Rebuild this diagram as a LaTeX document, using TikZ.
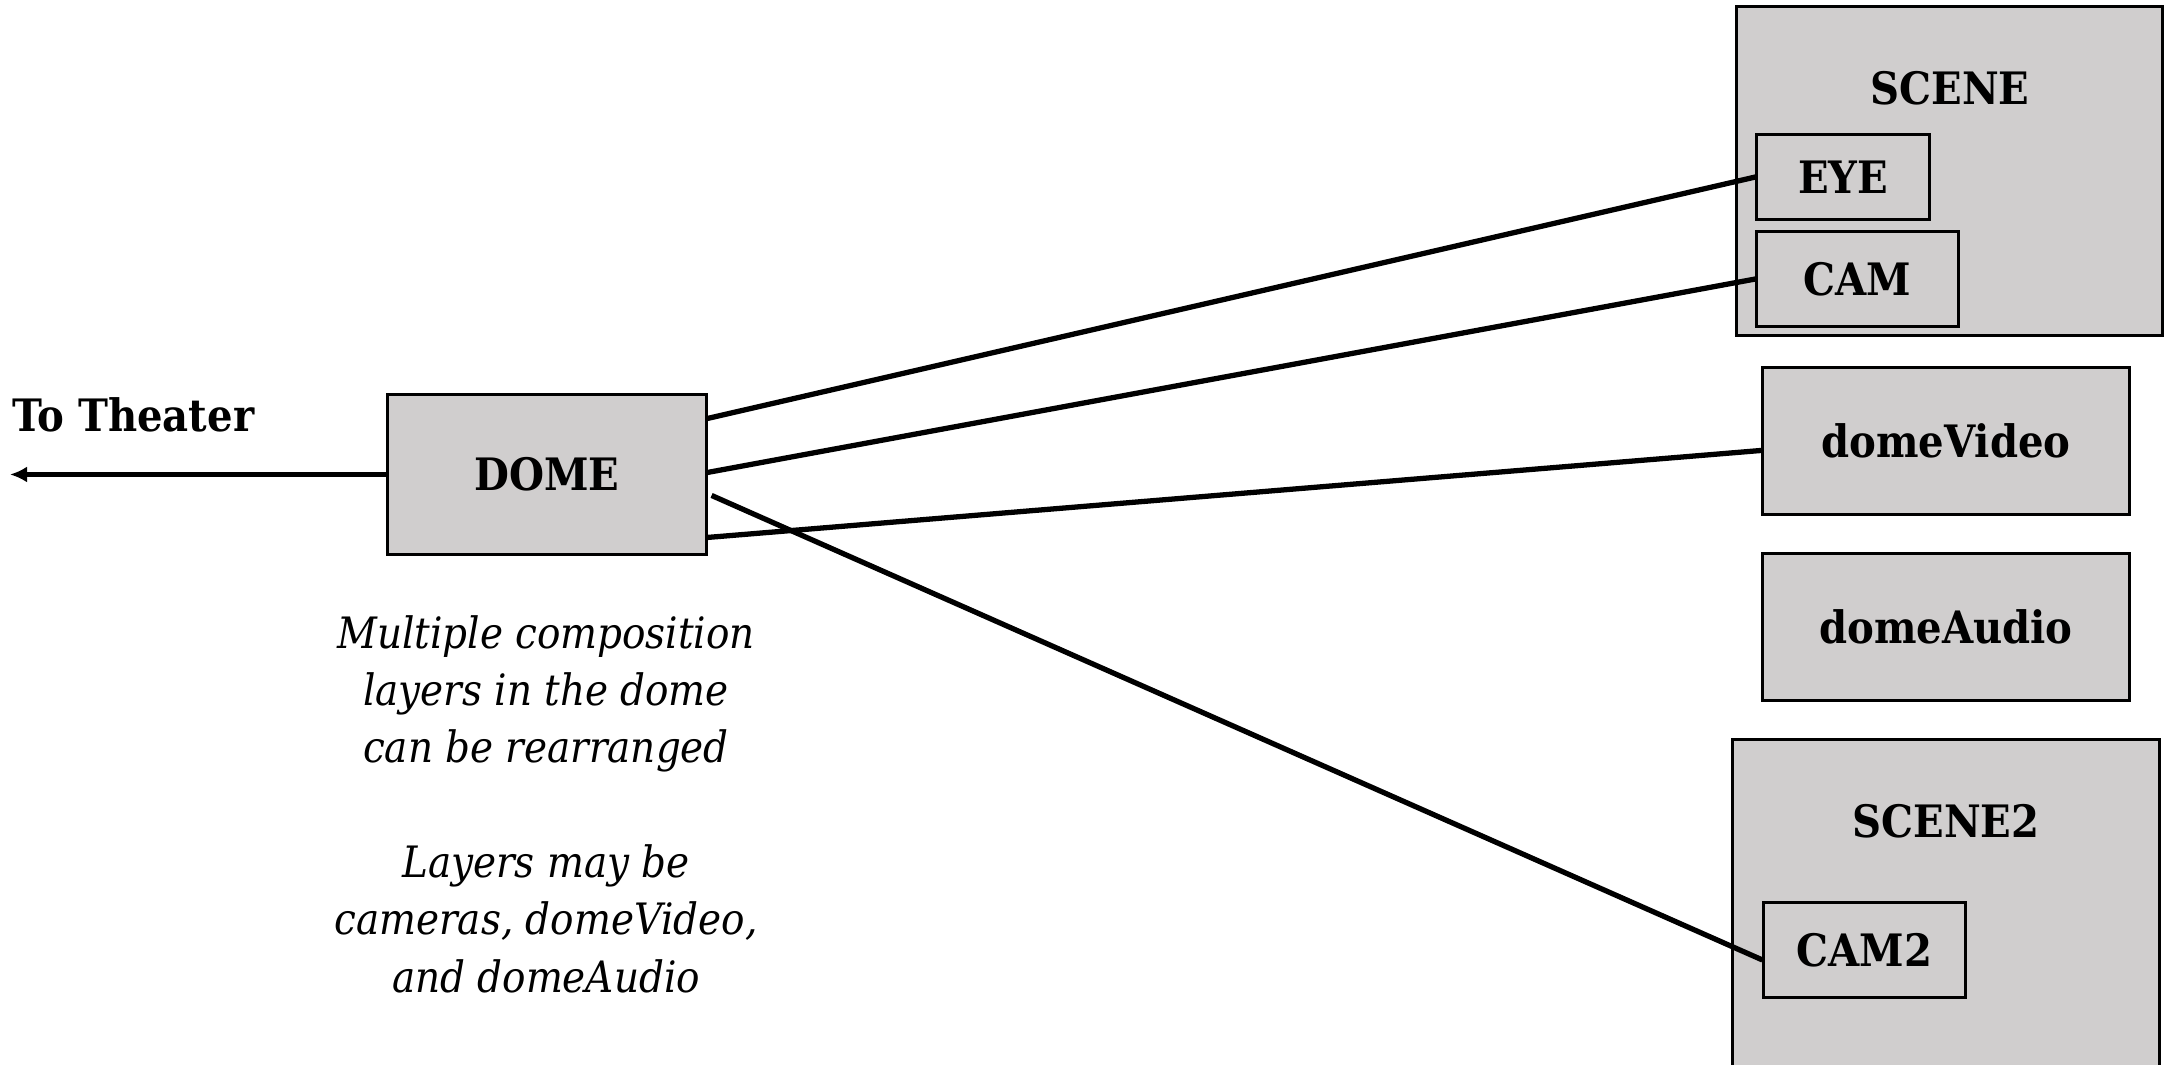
\documentclass[tikz,border=0pt]{standalone}
\usepackage{fontspec}
\setmainfont{DejaVu Serif Condensed}
\usetikzlibrary{arrows.meta,calc}
\definecolor{boxgray}{HTML}{D0CECE}
\tikzset{
  box/.style={draw=black, line width=0.85pt, fill=boxgray, inner sep=0pt,
    font=\fontsize{12.7}{15}\selectfont\bfseries},
  lbl/.style={font=\fontsize{12.7}{15}\selectfont\bfseries, inner sep=0pt},
  note/.style={font=\fontsize{12.3}{16.3}\selectfont\itshape, align=center, inner sep=0pt},
  conn/.style={line width=1.5pt, black},
}
\begin{document}
\begin{tikzpicture}[x=0.01cm,y=-0.01cm]
\useasboundingbox (0,0) rectangle (2177,1065);
% right column
\node[box, minimum width=4.25cm, minimum height=3.28cm] (scene) at (1949.5,171) {};
\node[lbl] (scenelbl) at (1950,88) {SCENE};
\node[box, minimum width=1.72cm, minimum height=0.84cm] (eye) at (1843,177) {EYE};
\node[box, minimum width=2.01cm, minimum height=0.94cm] (cam) at (1857.5,279) {CAM};
\node[box, minimum width=3.66cm, minimum height=1.46cm] (dvideo) at (1946,441) {domeVideo};
\node[box, minimum width=3.66cm, minimum height=1.46cm] (daudio) at (1946,627) {domeAudio};
\node[box, minimum width=4.26cm, minimum height=3.45cm] (scene2) at (1946,912.5) {};
\node[lbl] (scene2lbl) at (1946,821) {SCENE2};
\node[box, minimum width=2.01cm, minimum height=0.94cm] (cam2) at (1864.5,950) {CAM2};
% dome
\node[box, minimum width=3.18cm, minimum height=1.59cm] (dome) at (547,474.5) {DOME};
\node[lbl] (theaterlbl) at (133.5,415) {To Theater};
\coordinate (theater) at (10,474.5);
\node[note] (notes) at (546,804) {Multiple composition\\layers in the dome\\can be rearranged\\[0.575cm]Layers may be\\cameras, domeVideo,\\and domeAudio};
% connectors
\draw[conn,-{Latex[length=0.17cm,width=0.16cm]}] (dome.west) -- (theater);
\draw[conn] ($(dome.north east)+(0,25)$) -- (eye.west);
\draw[conn] ($(dome.north east)+(0,79)$) -- (cam.west);
\draw[conn] ($(dome.north east)+(0,144)$) -- ($(dvideo.north west)+(0,84)$);
\draw[conn] ($(dome.north east)+(4,102)$) -- ($(cam2.west)+(0,10)$);
\end{tikzpicture}
\end{document}
